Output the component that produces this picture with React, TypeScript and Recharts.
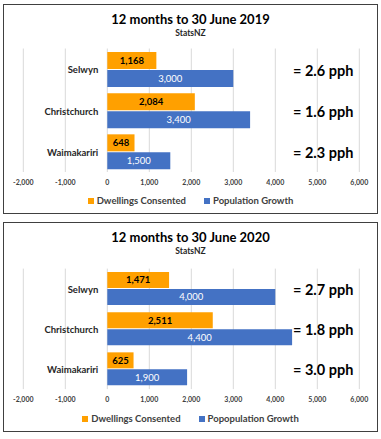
import { BarChart, Bar, XAxis, YAxis, CartesianGrid, LabelList } from 'recharts';

const categories = ['Selwyn', 'Christchurch', 'Waimakariri'];

const dwellings2019 = [1168, 2084, 648];
const population2019 = [3000, 3400, 1500];
const pph2019 = ['2.6', '1.6', '2.3'];
const legend2019 = ['Dwellings Consented', 'Population Growth'];

const dwellings2020 = [1471, 2511, 625];
const population2020 = [4000, 4400, 1900];
const pph2020 = ['2.7', '1.8', '3.0'];
const legend2020 = ['Dwellings Consented', 'Popopulation Growth'];

const xTicks = [-2000, -1000, 0, 1000, 2000, 3000, 4000, 5000, 6000];

const ORANGE = '#FFA000';
const BLUE = '#4472C4';
const FONT = 'Lato, "Open Sans", sans-serif';
const PPH_X = 293;

const fmt = (v: number) => v.toLocaleString('en-US');

interface PanelProps {
  top: number;
  boxHeight: number;
  title: string;
  dwellings: number[];
  population: number[];
  pph: string[];
  legend: string[];
  plotTop: number;
  plotBottom: number;
}

function Panel({ top, boxHeight, title, dwellings, population, pph, legend, plotTop, plotBottom }: PanelProps) {
  const data = categories.map((name, i) => ({
    name,
    dwellings: dwellings[i],
    population: population[i],
    pph: pph[i],
  }));
  const chartH = 220;

  const catLabel = (props: any) => {
    const { x, y, height, index } = props;
    return (
      <text x={x - 9} y={y + height + 1} textAnchor="end" dominantBaseline="central"
        fontSize={9.5} fontWeight={700} fill="#262626" fontFamily={FONT}>
        {categories[index]}
      </text>
    );
  };

  const pphLabel = (props: any) => {
    const { y, index } = props;
    return (
      <text x={PPH_X} y={y + 0.5} dominantBaseline="central"
        fontSize={14.5} fontWeight={700} fill="#000" fontFamily={FONT}>
        = {pph[index]} pph
      </text>
    );
  };

  return (
    <div style={{ position: 'absolute', left: 0, top, width: 381, height: chartH }}>
      <div style={{
        position: 'absolute', left: 3, top: 4, width: 375, height: boxHeight,
        border: '1.5px solid #404040', boxSizing: 'border-box',
      }} />
      <div style={{
        position: 'absolute', left: 0, top: 11, width: 381, textAlign: 'center',
        fontFamily: FONT, fontWeight: 700, fontSize: 13, color: '#000', lineHeight: '16px',
      }}>{title}</div>
      <div style={{
        position: 'absolute', left: 0, top: 28, width: 381, textAlign: 'center',
        fontFamily: FONT, fontWeight: 700, fontSize: 8.5, color: '#262626', lineHeight: '10px',
      }}>StatsNZ</div>
      <div style={{ position: 'absolute', left: 0, top: 0 }}>
        <BarChart
          width={381}
          height={chartH}
          data={data}
          layout="vertical"
          margin={{ top: plotTop, bottom: chartH - plotBottom - 20, left: 23.3, right: 21.7 }}
          barCategoryGap="8.5%"
          barGap={1}
        >
          <CartesianGrid horizontal={false} stroke="#D9D9D9" />
          <XAxis
            type="number"
            domain={[-2000, 6000]}
            ticks={xTicks}
            tickFormatter={fmt}
            axisLine={false}
            tickLine={false}
            height={20}
            tick={{ fontSize: 7, fill: '#404040', fontFamily: FONT, fontWeight: 700 }}
          />
          <YAxis type="category" dataKey="name" hide />
          <Bar dataKey="dwellings" fill={ORANGE} isAnimationActive={false}>
            <LabelList dataKey="dwellings" position="center" formatter={(v: any) => fmt(Number(v))}
              style={{ fontSize: 9.5, fontWeight: 700, fill: '#000', fontFamily: FONT }} />
            <LabelList dataKey="name" content={catLabel} />
          </Bar>
          <Bar dataKey="population" fill={BLUE} isAnimationActive={false}>
            <LabelList dataKey="population" position="center" formatter={(v: any) => fmt(Number(v))}
              style={{ fontSize: 9.5, fill: '#fff', fontFamily: FONT }} />
            <LabelList dataKey="pph" content={pphLabel} />
          </Bar>
        </BarChart>
      </div>
      <div style={{
        position: 'absolute', left: 0, top: 195, width: 381, display: 'flex', justifyContent: 'center',
        gap: 18, fontFamily: FONT, fontSize: 9.5, fontWeight: 700, color: '#404040', lineHeight: '12px',
      }}>
        {legend.map((name, i) => (
          <div key={name} style={{ display: 'flex', alignItems: 'center', gap: 3 }}>
            <span style={{ width: 6, height: 6, background: i === 0 ? ORANGE : BLUE, display: 'inline-block' }} />
            <span>{name}</span>
          </div>
        ))}
      </div>
    </div>
  );
}

export default function App() {
  return (
    <div style={{ position: 'absolute', left: 0, top: 0, width: 381, height: 439, background: '#fff' }}>
      <Panel top={0} boxHeight={210} title="12 months to 30 June 2019" dwellings={dwellings2019}
        population={population2019} pph={pph2019} legend={legend2019} plotTop={48.5} plotBottom={172} />
      <Panel top={218} boxHeight={210} title="12 months to 30 June 2020" dwellings={dwellings2020}
        population={population2020} pph={pph2020} legend={legend2020} plotTop={50.6} plotBottom={171.1} />
    </div>
  );
}
